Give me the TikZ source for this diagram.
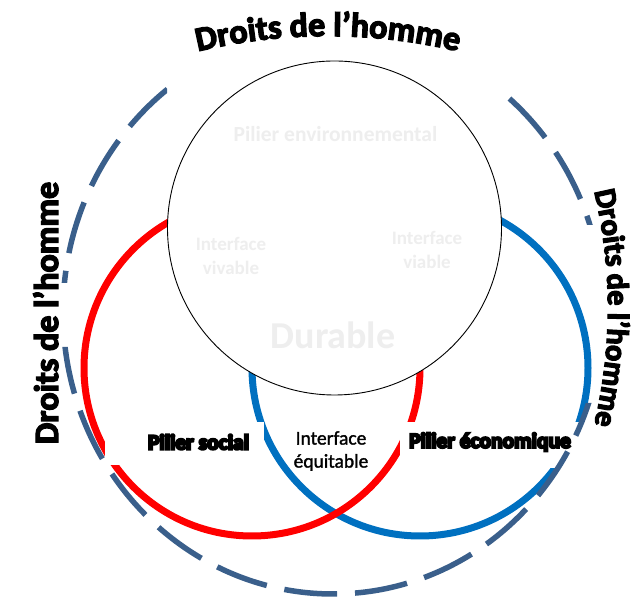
\documentclass[tikz,border=0pt]{standalone}
\usepackage{fontspec}
\setmainfont{Carlito}
\newfontfamily\dhfont{Carlito}[BoldFeatures={FakeBold=4}]
\newfontfamily\heavyfont{Carlito}[BoldFeatures={FakeBold=10}]
\newfontfamily\midfont{Carlito}[FakeBold=1.5]
\usetikzlibrary{decorations.text}
\definecolor{dashblue}{RGB}{58,95,139}
\definecolor{ringblue}{RGB}{0,112,192}
\definecolor{ringred}{RGB}{255,0,0}
\definecolor{ghost}{RGB}{238,238,238}
\newcommand\dhstyle{\dhfont\bfseries\fontsize{34}{34}\selectfont}
\newcommand\dhsmall{\dhfont\bfseries\fontsize{30.5}{31}\selectfont}
\begin{document}
\begin{tikzpicture}[x=1pt,y=1pt,
  ring/.style={line width=7},
  ghosttext/.style={text=ghost,font=\bfseries\fontsize{19}{24}\selectfont,align=center},
  pilier/.style={font=\heavyfont\bfseries\fontsize{21.5}{24}\selectfont},
  maskbox/.style={fill=white,draw=none},
  curvedtext/.style={decorate,decoration={text along path,text={|\dhstyle|#1},text align=center}},
  curvedsmall/.style={decorate,decoration={text along path,text={|\dhsmall|#1},text align=center}}]
\useasboundingbox (0,0) rectangle (635,599);
% two rings
\draw[ring,ringblue] (420,231) circle[radius=168];
\draw[ring,ringred] (252,231) circle[radius=168];
% white label boxes hiding the rings
\path[maskbox] (105,177) rectangle (264,134);
\path[maskbox] (400,177) rectangle (585,131);
% dashed outer ellipse
\begin{scope}
\clip (0,599) -- (167,599) -- (167,494) -- (502,494) -- (502,599) -- (635,599)
  -- (635,374) -- (583,374) -- (583,196) -- (635,196) -- (635,0) -- (0,0)
  -- (0,252) -- (72,252) -- (72,316) -- (0,316) -- cycle;
\draw[dashblue,line width=5.5,dash pattern=on 53 off 18,dash phase=26]
  (333,287) ellipse[x radius=270,y radius=282];
\end{scope}
% environmental circle
\draw[black,line width=0.9,fill=white] (334.5,371) circle[radius=167];
% ghost texts
\node[ghosttext,font=\bfseries\fontsize{21.5}{26}\selectfont] (penv) at (335.5,465) {Pilier environnemental};
\node[ghosttext] (iviv) at (231,343) {Interface\\vivable};
\node[ghosttext] (ivia) at (427,349.5) {Interface\\viable};
\node[ghosttext,font=\bfseries\fontsize{38}{40}\selectfont] (dur) at (333,264) {Durable};
% pillars
\node[pilier] (psoc) at (198.5,157) {Pilier social};
\node[pilier] (peco) at (490,157) {Pilier économique};
\node[font=\midfont\fontsize{19.5}{23}\selectfont,align=center] (ieq) at (331,148) {Interface\\équitable};
% human rights texts
\coordinate (topc) at (328,3);
\coordinate (rightc) at (108,291);
\coordinate (lefta) at (58,156);
\coordinate (leftb) at (58,416);
\path[curvedtext={Droits de l’homme}] (topc) ++(105:560) arc[start angle=105,end angle=75,radius=560];
\path[curvedsmall={Droits de l’homme}] (rightc) ++(20:500) arc[start angle=20,end angle=-20,radius=500];
\path[curvedtext={Droits de l’homme}] (lefta) -- (leftb);
\end{tikzpicture}
\end{document}
